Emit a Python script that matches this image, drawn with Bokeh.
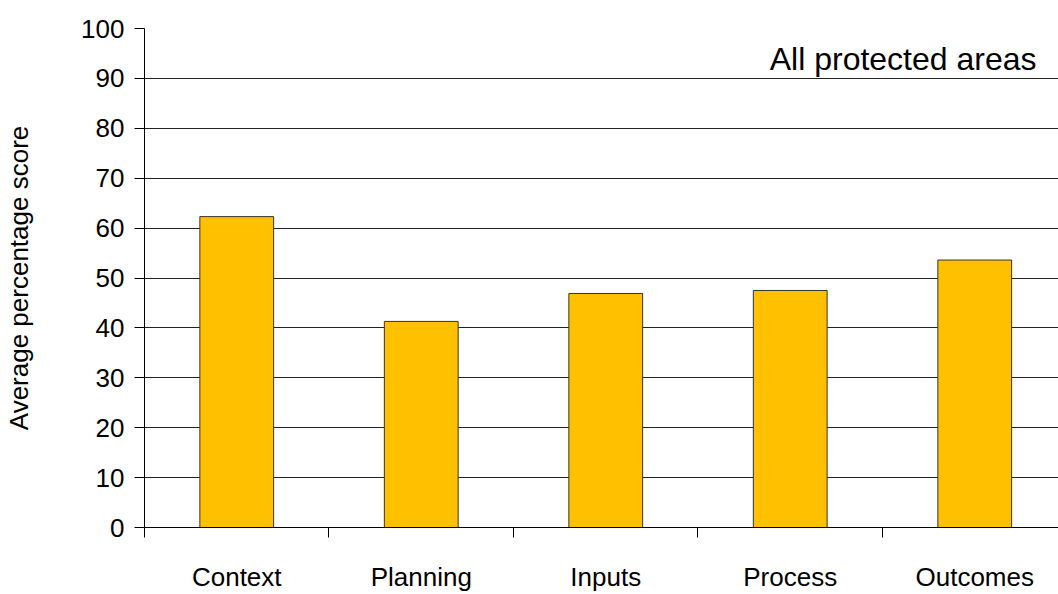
from bokeh.plotting import figure
from bokeh.models import ColumnDataSource, Range1d, FixedTicker, Label
from bokeh.embed import file_html
from bokeh.resources import INLINE

categories = ["Context", "Planning", "Inputs", "Process", "Outcomes"]
scores = [62.3, 41.3, 46.9, 47.5, 53.6]
y_ticks = [0, 10, 20, 30, 40, 50, 60, 70, 80, 90, 100]
y_label = "Average percentage score"
panel_title = "All protected areas"

FONT = "Liberation Sans"

xs = [i + 0.5 for i in range(len(categories))]
source = ColumnDataSource(dict(x=xs, score=scores, cat=categories))

p = figure(width=1058, height=594, x_range=Range1d(0, 4.954), y_range=Range1d(0, 100),
           output_backend="svg", toolbar_location=None,
           min_border_left=144, min_border_right=0, min_border_top=28, min_border_bottom=66)
p.outline_line_color = None
p.background_fill_color = "white"
p.border_fill_color = "white"

p.vbar(x="x", top="score", width=0.4, source=source,
       fill_color="#FFC000", line_color="#333333", line_width=1)

# x axis
xa = p.xaxis[0]
xa.ticker = FixedTicker(ticks=xs, minor_ticks=list(range(len(categories) + 1)))
xa.major_label_overrides = {x: c for x, c in zip(xs, categories)}
xa.major_tick_out = 0
xa.major_tick_in = 0
xa.minor_tick_out = 10
xa.minor_tick_in = 0
xa.minor_tick_line_color = "black"
xa.axis_line_color = "black"
xa.major_label_standoff = 24
xa.major_label_text_font = FONT
xa.major_label_text_font_size = "26px"
xa.major_label_text_color = "black"

# y axis
ya = p.yaxis[0]
ya.ticker = FixedTicker(ticks=y_ticks, minor_ticks=[])
ya.major_tick_out = 10
ya.major_tick_in = 0
ya.major_tick_line_color = "black"
ya.axis_line_color = "black"
ya.major_label_standoff = 10
ya.major_label_text_font = FONT
ya.major_label_text_font_size = "26px"
ya.major_label_text_color = "black"
ya.axis_label = y_label
ya.axis_label_text_font = FONT
ya.axis_label_text_font_size = "26px"
ya.axis_label_text_font_style = "normal"
ya.axis_label_text_color = "black"
ya.axis_label_standoff = 44

p.xgrid.visible = False
p.ygrid.grid_line_color = "#222222"
p.ygrid.grid_line_width = 1

p.add_layout(Label(x=4.835, y=97.5, text=panel_title, text_align="right",
                   text_baseline="top", text_font=FONT,
                   text_font_size="32px", text_color="black"))

open("out.html", "w").write(file_html(p, INLINE))
